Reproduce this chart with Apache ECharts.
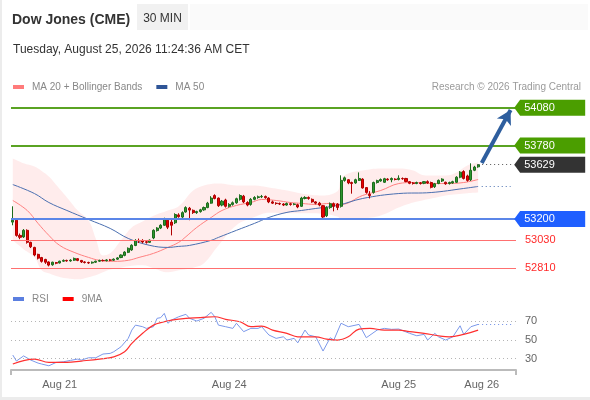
<!DOCTYPE html>
<html><head><meta charset="utf-8">
<script src="https://cdn.jsdelivr.net/npm/echarts@6/dist/echarts.min.js"></script>
<style>
html,body{margin:0;padding:0;background:#fff;}
#frame{position:absolute;left:0;top:0;width:590px;height:400px;background:#ececec;}
#panel{position:absolute;left:2px;top:0;width:588px;height:397px;background:#fff;}
#chart{position:absolute;left:0;top:0;width:590px;height:400px;}
</style></head><body>
<div id="frame"><div id="panel"></div></div>
<div id="chart"></div>
<script>
const FONT = 'Liberation Sans, Arial, sans-serif';
const SLOTS = 140;
const categories = Array.from({length: SLOTS}, (_, i) => String(i));

// [open, close, low, high]
const candles = [
[53175,53190,53150,53300],[53190,53070,53060,53200],[53070,53055,53040,53085],[53058,53110,53050,53120],
[53110,53015,53005,53118],[53015,52980,52970,53020],[52975,52915,52905,52980],[52920,52890,52880,52925],
[52895,52865,52855,52900],[52880,52858,52845,52885],[52860,52835,52825,52865],[52838,52858,52830,52862],
[52855,52850,52842,52860],[52852,52866,52848,52870],[52866,52872,52860,52880],[52872,52868,52862,52878],
[52868,52874,52862,52882],[52874,52888,52868,52895],[52886,52872,52866,52890],[52872,52860,52852,52876],
[52860,52856,52848,52866],[52856,52852,52845,52862],[52852,52858,52846,52864],[52858,52866,52852,52870],
[52866,52872,52860,52878],[52872,52870,52864,52880],[52870,52876,52864,52882],[52876,52874,52866,52884],
[52874,52882,52868,52888],[52882,52892,52876,52898],[52895,52915,52890,52920],[52912,52938,52905,52945],
[52936,52968,52930,52975],[52955,52992,52948,53000],[52990,53030,52985,53040],[53030,53025,53010,53045],
[53030,53018,53008,53040],[53020,53015,53005,53030],[53015,53032,53010,53038],[53050,53110,53040,53118],
[53108,53128,53100,53135],[53128,53150,53120,53158],[53150,53196,53145,53210],[53190,53135,53120,53200],
[53175,53150,53070,53200],[53170,53235,53160,53245],[53232,53218,53210,53245],[53215,53250,53205,53260],
[53255,53290,53250,53300],[53285,53270,53190,53295],[53268,53250,53240,53275],[53250,53258,53240,53265],
[53258,53272,53250,53280],[53272,53290,53265,53298],[53290,53325,53285,53335],[53325,53365,53320,53380],
[53385,53362,53355,53395],[53365,53305,53295,53370],[53310,53340,53300,53350],[53350,53300,53290,53360],
[53300,53315,53290,53325],[53315,53328,53305,53338],[53328,53360,53320,53368],[53355,53385,53345,53395],
[53380,53335,53325,53390],[53330,53310,53300,53340],[53315,53355,53305,53365],[53355,53370,53348,53380],
[53370,53375,53360,53385],[53375,53378,53365,53390],[53378,53368,53360,53385],[53365,53335,53325,53372],
[53335,53325,53318,53345],[53325,53322,53312,53332],[53322,53318,53310,53330],[53318,53310,53302,53325],
[53310,53322,53305,53330],[53320,53315,53305,53328],[53315,53318,53308,53325],[53312,53295,53285,53320],
[53300,53365,53295,53375],[53362,53370,53355,53380],[53370,53362,53352,53378],[53355,53335,53328,53362],
[53335,53325,53315,53340],[53325,53310,53300,53335],[53305,53215,53195,53310],[53225,53290,53215,53300],
[53290,53320,53280,53330],[53320,53300,53260,53330],[53318,53290,53270,53325],[53300,53505,53290,53545],
[53505,53525,53495,53535],[53510,53485,53475,53515],[53488,53480,53400,53495],[53485,53510,53478,53518],
[53505,53520,53500,53568],[53515,53445,53440,53522],[53448,53410,53400,53452],[53395,53385,53362,53420],
[53410,53488,53400,53495],[53488,53503,53480,53510],[53500,53512,53495,53520],[53490,53518,53485,53525],
[53515,53510,53502,53522],[53510,53520,53490,53528],[53515,53512,53505,53522],[53512,53522,53505,53545],
[53520,53518,53510,53528],[53520,53496,53490,53525],[53495,53482,53475,53500],[53485,53480,53472,53492],
[53480,53488,53475,53495],[53486,53480,53472,53492],[53482,53495,53475,53500],[53495,53485,53478,53505],
[53488,53450,53442,53495],[53455,53478,53445,53485],[53480,53505,53475,53512],[53500,53515,53492,53522],
[53490,53478,53470,53495],[53480,53488,53472,53495],[53485,53495,53478,53502],[53490,53530,53485,53538],
[53530,53570,53522,53578],[53575,53520,53512,53585],[53540,53505,53495,53550],[53510,53585,53500,53640],
[53585,53610,53578,53620],[53612,53629,53605,53632]
];

// [bar index, value]
const ma20 = [[0,53346],[4,53267],[7,53165],[10,53070],[13,52991],[17,52936],[21,52896],[24,52873],[28,52865],
[32,52873],[35,52896],[39,52928],[43,52975],[46,53015],[48,53060],[51,53133],[55,53212],[58,53267],[62,53307],
[66,53330],[69,53354],[73,53346],[77,53330],[80,53323],[84,53315],[88,53323],[91,53315],[97,53386],[102,53425],
[107,53480],[111,53488],[116,53480],[120,53480],[125,53488],[129,53512]];

const ma50 = [[0,53472],[6,53401],[10,53330],[15,53267],[21,53196],[27,53125],[32,53046],[38,52991],[43,52975],
[46,52983],[49,52991],[55,53031],[57,53054],[62,53110],[67,53165],[71,53212],[76,53252],[80,53267],[84,53283],
[90,53307],[97,53362],[107,53401],[116,53409],[125,53441],[129,53457]];

const bandBars  = [0,3,6,8,10,12,15,18,21,23,25,27,30,33,36,39,43,46,50,53,57,62,67,71,76,80,85,90,91,93,97,102,107,111,114,116,120,123,126,129];
const bandUpper = [53678,53640,53615,53580,53536,53470,53370,53267,53188,53046,52912,52928,53031,53133,53180,53225,53267,53300,53425,53465,53480,53465,53465,53449,53425,53401,53386,53420,53520,53560,53583,53599,53599,53583,53545,53543,53543,53567,53622,53646];
const bandLower = [53031,52960,52897,52794,52770,52750,52731,52723,52740,52755,52778,52800,52815,52830,52834,52810,52778,52794,52815,52850,52990,53150,53215,53250,53245,53245,53244,53220,53200,53200,53204,53228,53291,53330,53350,53362,53386,53395,53403,53409];

const rsi = [[0,33.9],[1,27.5],[3,33],[5,28.5],[7,25.3],[8,24.3],[10,22.4],[12,26],[14,26.7],[16,28.2],[18,29.6],
[19,28.5],[21,31],[23,31],[25,35],[27,35.7],[28,37.5],[30,42.8],[32,51.8],[33,60.7],[34,66],[36,64.3],[37,62.5],
[39,64.3],[40,73.3],[41,74],[42,78.6],[43,68],[44,71.4],[46,75],[48,77.6],[49,73.3],[51,70.4],[53,73.3],[55,79.7],
[56,75],[57,66],[59,64.3],[61,62.5],[62,68],[64,59],[66,62.5],[68,62.5],[69,64.3],[71,55.4],[73,51.8],[75,53.5],
[76,50],[78,51.8],[79,47],[81,60.7],[82,55.4],[84,53.5],[86,38.2],[88,52.5],[89,50],[91,68],[93,64.3],[96,66.8],
[98,52.5],[101,60.7],[103,62.5],[105,61.5],[107,61.8],[110,57.2],[112,54.6],[114,56.1],[115,50],[117,57.2],
[118,53.5],[120,50],[122,53.5],[124,65.3],[125,56.1],[127,64.3],[129,66.8]];

const rsiMa = [[0,24.3],[6,29.6],[10,26],[15,26],[19,27.5],[24,29.6],[28,32],[31,37.5],[33,46.4],[36,57.2],[39,66],
[42,69.6],[44,71.4],[48,73.3],[52,74],[56,75],[59,72.2],[63,69.6],[66,64.3],[69,65],[72,60.7],[76,57.2],[79,53.5],
[84,53.5],[87,51],[90,50],[93,53.5],[96,61.8],[99,62.5],[103,60.7],[107,60.7],[110,59],[114,57.2],[118,54.6],
[121,53.5],[125,56.1],[129,60.7]];

const resistLevels = [54080, 53780];
const supportLevel = 53200;
const redLevels = [53030, 52810];
const lastPrice = 53629;
const ma50Last = 53457;
const rsiLast = 66.8;
const rsiLevels = [30, 50, 70];
const arrowFrom = [130, 53643];
const arrowTo = [138, 54062];
const dayLabels = ['Aug 21', 'Aug 24', 'Aug 25', 'Aug 26'];
const dayLabelBars = [13, 60, 107, 130];

const lastBar = candles.length - 1;
const lastSlot = SLOTS - 1;
const tagPath = 'path://M0,8L6,0L72,0L72,16L6,16Z';

function tag(value, color) {
  return {
    coord: [lastSlot, value],
    itemStyle: {color: color},
    label: {show: true, formatter: String(value), position: 'insideLeft', distance: 10,
            color: '#fff', fontSize: 11, fontFamily: FONT}
  };
}

const chart = echarts.init(document.getElementById('chart'), null, {renderer: 'canvas'});
chart.setOption({
  animation: false,
  backgroundColor: 'transparent',
  textStyle: {fontFamily: FONT},
  graphic: [
    {type: 'rect', shape: {x: 190, y: 4, width: 398, height: 26}, style: {fill: '#fafafa'}, silent: true},
    {type: 'text', x: 12, y: 20.5, style: {text: 'Dow Jones (CME)', fill: '#333', font: 'bold 14px ' + FONT, align: 'left', verticalAlign: 'middle'}},
    {type: 'rect', shape: {x: 137, y: 4, width: 51, height: 26}, style: {fill: '#f1f1f1'}},
    {type: 'text', x: 162.5, y: 19, style: {text: '30 MIN', fill: '#333', font: '12px ' + FONT, align: 'center', verticalAlign: 'middle'}},
    {type: 'text', x: 13, y: 50, style: {text: 'Tuesday, August 25, 2026 11:24:36 AM CET', fill: '#333', font: '12px ' + FONT, align: 'left', verticalAlign: 'middle'}},
    {type: 'text', x: 581, y: 87.5, style: {text: 'Research \u00a9 2026 Trading Central', fill: '#9a9a9a', font: '10px ' + FONT, align: 'right', verticalAlign: 'middle'}}
  ],
  legend: [
    {left: 13, top: 82, padding: 0, icon: 'rect', itemWidth: 11, itemHeight: 4, itemGap: 14, selectedMode: false,
     textStyle: {color: '#888', fontSize: 10, fontFamily: FONT, padding: [0, 0, 0, 3]},
     data: [{name: 'MA 20 + Bollinger Bands', itemStyle: {color: '#ff7b7b'}}, {name: 'MA 50', itemStyle: {color: '#2f5597'}}]},
    {left: 13, top: 294, padding: 0, icon: 'rect', itemWidth: 11, itemHeight: 4, itemGap: 14, selectedMode: false,
     textStyle: {color: '#888', fontSize: 10, fontFamily: FONT, padding: [0, 0, 0, 3]},
     data: [{name: 'RSI', itemStyle: {color: '#5b7fe0'}}, {name: '9MA', itemStyle: {color: '#ff0000'}}]}
  ],
  grid: [
    {left: 11, right: 74, top: 95, height: 187.2},
    {left: 11, right: 74, top: 304.6, height: 65.3}
  ],
  xAxis: [
    {type: 'category', gridIndex: 0, data: categories, boundaryGap: true, show: false},
    {type: 'category', gridIndex: 1, data: categories, boundaryGap: true, position: 'bottom',
     axisLine: {show: false}, axisTick: {show: false}, splitLine: {show: false},
     axisLabel: {interval: (i) => dayLabelBars.includes(i), formatter: (v, i) => {
        const k = dayLabelBars.indexOf(Number(v)); return k >= 0 ? dayLabels[k] : ''; },
       color: '#666', fontSize: 11, fontFamily: FONT, margin: 10}},
    {type: 'value', gridIndex: 1, min: 0, max: 1, interval: 1, position: 'bottom',
     axisLine: {show: true, lineStyle: {color: '#bbb', width: 2}},
     axisTick: {show: true, length: 5, lineStyle: {color: '#bbb', width: 2}},
     axisLabel: {show: false}, splitLine: {show: false}}
  ],
  yAxis: [
    {type: 'value', gridIndex: 0, min: 52700, max: 54180, show: false},
    {type: 'value', gridIndex: 1, min: 18, max: 88, show: false}
  ],
  series: [
    {type: 'line', xAxisIndex: 0, yAxisIndex: 0, stack: 'bb', silent: true, symbol: 'none', smooth: 0.4, z: 1,
     lineStyle: {opacity: 0}, data: bandBars.map((b, k) => [b, bandLower[k]])},
    {type: 'line', xAxisIndex: 0, yAxisIndex: 0, stack: 'bb', silent: true, symbol: 'none', smooth: 0.4, z: 1,
     lineStyle: {opacity: 0}, areaStyle: {color: 'rgba(255,40,40,0.13)'},
     data: bandBars.map((b, k) => [b, bandUpper[k] - bandLower[k]])},
    {name: 'MA 20 + Bollinger Bands', type: 'line', xAxisIndex: 0, yAxisIndex: 0, symbol: 'none', smooth: 0.4, z: 2,
     color: '#ff8080', lineStyle: {color: '#ff8080', width: 1}, data: ma20},
    {name: 'MA 50', type: 'line', xAxisIndex: 0, yAxisIndex: 0, symbol: 'none', smooth: 0.4, z: 2,
     color: '#4a6fb0', lineStyle: {color: '#4a6fb0', width: 1}, data: ma50},
    {type: 'candlestick', xAxisIndex: 0, yAxisIndex: 0, barWidth: '72%', z: 4, clip: false,
     itemStyle: {color: '#2e962e', color0: '#e60000', borderColor: '#1c6b1c', borderColor0: '#b00000', borderWidth: 1},
     data: candles,
     markLine: {
       silent: true, symbol: 'none', animation: false,
       data: [
         ...resistLevels.map(v => ({yAxis: v, lineStyle: {color: '#5aa323', width: 2, type: 'solid'}, label: {show: false}})),
         {yAxis: supportLevel, lineStyle: {color: '#5b86e8', width: 2, type: 'solid'}, label: {show: false}},
         ...redLevels.map(v => ({yAxis: v, lineStyle: {color: '#ff7070', width: 1, type: 'solid'},
            label: {show: true, position: 'end', distance: 9, formatter: String(v), color: '#ff2a2a', fontSize: 11, fontFamily: FONT}})),
         [{coord: [lastBar, lastPrice], lineStyle: {color: '#555', width: 1, type: [1, 3]}, label: {show: false}}, {coord: [lastSlot, lastPrice]}],
         [{coord: [lastBar + 1, ma50Last], lineStyle: {color: '#4a6fb0', width: 1, type: [1, 3]}, label: {show: false}}, {coord: [lastSlot - 1, ma50Last]}],
         [{coord: arrowFrom, symbol: 'none', lineStyle: {color: '#2e5e9e', width: 4, type: 'solid'}, label: {show: false}},
          {coord: arrowTo, symbol: 'arrow', symbolSize: [12, 14]}]
       ]
     },
     markPoint: {
       silent: true, animation: false,
       symbol: tagPath, symbolSize: [71, 16], symbolOffset: [35.5, 0], symbolKeepAspect: false,
       data: [tag(resistLevels[0], '#4b9e00'), tag(resistLevels[1], '#4b9e00'), tag(lastPrice, '#333333'), tag(supportLevel, '#1f5fff')]
     }
    },
    {name: 'RSI', type: 'line', xAxisIndex: 1, yAxisIndex: 1, symbol: 'none', z: 3,
     color: '#6d8de6', lineStyle: {color: '#7b98ea', width: 1}, data: rsi,
     markLine: {
       silent: true, symbol: 'none', animation: false,
       data: [
         ...rsiLevels.map(v => ({yAxis: v, lineStyle: {color: '#b5b5b5', width: 1, type: [1, 3]},
            label: {show: true, position: 'end', distance: 9, formatter: String(v), color: '#666', fontSize: 11, fontFamily: FONT}})),
         [{coord: [lastBar, rsiLast], lineStyle: {color: '#6d8de6', width: 1, type: [1, 3]}, label: {show: false}}, {coord: [lastSlot, rsiLast]}]
       ]
     }
    },
    {name: '9MA', type: 'line', xAxisIndex: 1, yAxisIndex: 1, symbol: 'none', smooth: 0.4, z: 3,
     color: '#ff2020', lineStyle: {color: '#ff3030', width: 1.2}, data: rsiMa}
  ]
});
</script></body></html>
